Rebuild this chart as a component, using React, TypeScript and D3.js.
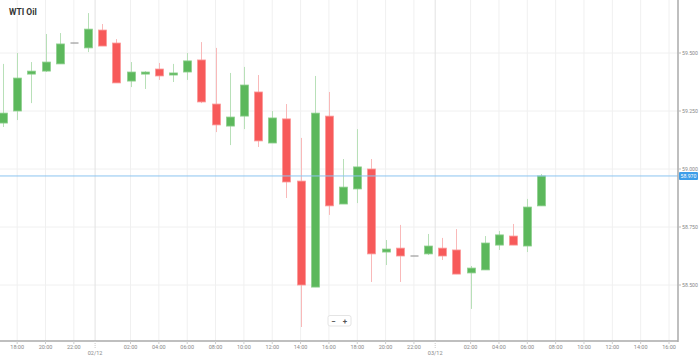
import React, { useMemo } from "react";
import * as d3 from "d3";

// Hourly candles, 01/12 17:00 → 03/12 07:00
const startTime = Date.UTC(2019, 11, 1, 17, 0, 0);
const opens = [59.198, 59.25, 59.409, 59.422, 59.453, 59.543, 59.522, 59.599, 59.543, 59.379, 59.409, 59.431, 59.405, 59.418, 59.47, 59.28, 59.185, 59.228, 59.332, 59.112, 59.216, 58.948, 58.491, 59.228, 58.849, 58.914, 59.0, 58.642, 58.659, 58.625, 58.634, 58.659, 58.651, 58.552, 58.565, 58.672, 58.711, 58.668, 58.841];
const highs = [59.453, 59.5, 59.461, 59.582, 59.586, 59.543, 59.672, 59.625, 59.56, 59.461, 59.422, 59.457, 59.453, 59.5, 59.547, 59.522, 59.414, 59.44, 59.405, 59.25, 59.28, 59.134, 59.401, 59.332, 59.043, 59.172, 59.043, 58.694, 58.759, 58.625, 58.72, 58.703, 58.741, 58.582, 58.711, 58.733, 58.763, 58.871, 58.978];
const lows = [59.181, 59.211, 59.284, 59.418, 59.453, 59.543, 59.504, 59.53, 59.371, 59.353, 59.345, 59.384, 59.375, 59.384, 59.284, 59.159, 59.103, 59.172, 59.095, 59.112, 58.875, 58.319, 58.491, 58.802, 58.849, 58.853, 58.513, 58.586, 58.513, 58.625, 58.629, 58.608, 58.547, 58.397, 58.565, 58.651, 58.672, 58.642, 58.841];
const closes = [59.241, 59.392, 59.422, 59.461, 59.539, 59.543, 59.603, 59.53, 59.371, 59.418, 59.418, 59.401, 59.414, 59.466, 59.289, 59.19, 59.224, 59.362, 59.121, 59.22, 58.944, 58.5, 59.241, 58.841, 58.922, 59.009, 58.634, 58.655, 58.625, 58.625, 58.668, 58.625, 58.547, 58.573, 58.681, 58.716, 58.672, 58.836, 58.97];
const priceTicks = [59.5, 59.25, 59.0, 58.75, 58.5];
const dateLabels = ["02/12", "03/12"];
const title = "WTI Oil";

const W = 699;
const H = 358;
const plotRight = 678;
const plotBottom = 341;

export default function App() {
  const candles = useMemo(
    () =>
      opens.map((o, i) => ({
        t: new Date(startTime + i * 3600000),
        o,
        h: highs[i],
        l: lows[i],
        c: closes[i],
      })),
    []
  );

  const x = d3
    .scaleUtc()
    .domain([new Date(startTime), new Date(startTime + 47 * 3600000)])
    .range([3, 669]);
  const y = d3.scaleLinear().domain([58.5, 59.5]).range([285, 53]);

  const hourTicks = d3.utcHour
    .every(2)!
    .range(new Date(startTime), new Date(startTime + 48 * 3600000))
    .filter((d) => d.getUTCHours() !== 0);
  const fmt = d3.utcFormat("%H:%M");
  const dayMarks = [1, 2].map((k) => new Date(Date.UTC(2019, 11, 1 + k, 0, 0) - 30 * 60000));

  const last = closes[closes.length - 1];
  const green = "#5cb85c";
  const red = "#f75a5a";
  const bodyW = 8;

  return (
    <svg
      width={W}
      height={H}
      style={{ position: "absolute", left: 0, top: 0, background: "#fff" }}
      fontFamily="Roboto, 'Open Sans', Arial, sans-serif"
    >
      <defs>
        <clipPath id="plot">
          <rect x={0} y={0} width={plotRight} height={plotBottom} />
        </clipPath>
      </defs>
      {/* grid */}
      <g>
        {priceTicks.map((p) => (
          <line key={p} x1={0} x2={plotRight} y1={y(p)} y2={y(p)} stroke="#f0f0f0" />
        ))}
        {hourTicks.map((d) => (
          <line key={+d} x1={x(d)} x2={x(d)} y1={0} y2={plotBottom} stroke="#f0f0f0" />
        ))}
        {dayMarks.map((d) => (
          <line key={+d} x1={x(d)} x2={x(d)} y1={0} y2={plotBottom} stroke="#e2e2e2" />
        ))}
      </g>
      {/* candles */}
      <g clipPath="url(#plot)">
        {candles.map((d, i) => {
          const up = d.c > d.o;
          const flat = d.c === d.o;
          const col = flat ? "#888" : up ? green : red;
          const wick = flat ? "#888" : up ? "#b8e0b8" : "#f9b9b9";
          const cx = Math.round(x(d.t)) + 0.5;
          const top = y(Math.max(d.o, d.c));
          const bot = y(Math.min(d.o, d.c));
          return (
            <g key={i}>
              <line x1={cx} x2={cx} y1={y(d.h)} y2={y(d.l)} stroke={wick} strokeWidth={1} />
              {flat ? (
                <line x1={cx - bodyW / 2} x2={cx + bodyW / 2} y1={top} y2={top} stroke={col} strokeWidth={1} />
              ) : (
                <rect
                  x={cx - bodyW / 2}
                  y={top}
                  width={bodyW}
                  height={Math.max(bot - top, 2)}
                  fill={col}
                  stroke={up ? "#8fd08f" : "#fb9a9a"}
                  strokeWidth={0.8}
                />
              )}
            </g>
          );
        })}
      </g>
      {/* current price line */}
      <line x1={0} x2={plotRight} y1={y(last)} y2={y(last)} stroke="#8cc4f0" strokeWidth={1} />
      {/* axes */}
      <line x1={plotRight} x2={plotRight} y1={0} y2={plotBottom + 1} stroke="#aaa" strokeWidth={1.5} />
      <line x1={0} x2={plotRight} y1={plotBottom} y2={plotBottom} stroke="#aaa" strokeWidth={1.5} />
      {priceTicks.map((p) => (
        <g key={p}>
          <line x1={plotRight} x2={plotRight + 3} y1={y(p)} y2={y(p)} stroke="#bbb" />
          <text x={plotRight + 4} y={y(p)} dy="0.35em" fontSize={5.2} fill="#888">
            {d3.format(".3f")(p)}
          </text>
        </g>
      ))}
      <rect x={plotRight + 1} y={y(last) - 4} width={19} height={8} fill="#3d9ee9" rx={1} />
      <text x={plotRight + 2.5} y={y(last)} dy="0.35em" fontSize={5.2} fill="#fff">
        {d3.format(".3f")(last)}
      </text>
      {hourTicks.map((d) => (
        <g key={+d}>
          <line x1={x(d)} x2={x(d)} y1={plotBottom} y2={plotBottom + 3} stroke="#ccc" />
          <text x={x(d)} y={plotBottom + 8} textAnchor="middle" fontSize={5.5} fill="#888">
            {fmt(d)}
          </text>
        </g>
      ))}
      {dayMarks.map((d, k) => (
        <g key={+d}>
          <line x1={x(d)} x2={x(d)} y1={plotBottom} y2={plotBottom + 8} stroke="#ccc" strokeDasharray="1,1" />
          <text x={x(d)} y={plotBottom + 14} textAnchor="middle" fontSize={5.5} fill="#888">
            {dateLabels[k]}
          </text>
        </g>
      ))}
      {/* title */}
      <text x={9} y={15} fontSize={8.5} fontWeight="bold" fill="#333">
        {title}
      </text>
      {/* zoom control */}
      <g>
        <rect x={328} y={315.5} width={23} height={10.5} fill="#fff" stroke="#e4e4e4" rx={2} />
        <text x={333.5} y={321} dy="0.35em" textAnchor="middle" fontSize={8} fontWeight="bold" fill="#555">
          −
        </text>
        <text x={345} y={321} dy="0.35em" textAnchor="middle" fontSize={8} fontWeight="bold" fill="#555">
          +
        </text>
      </g>
    </svg>
  );
}
